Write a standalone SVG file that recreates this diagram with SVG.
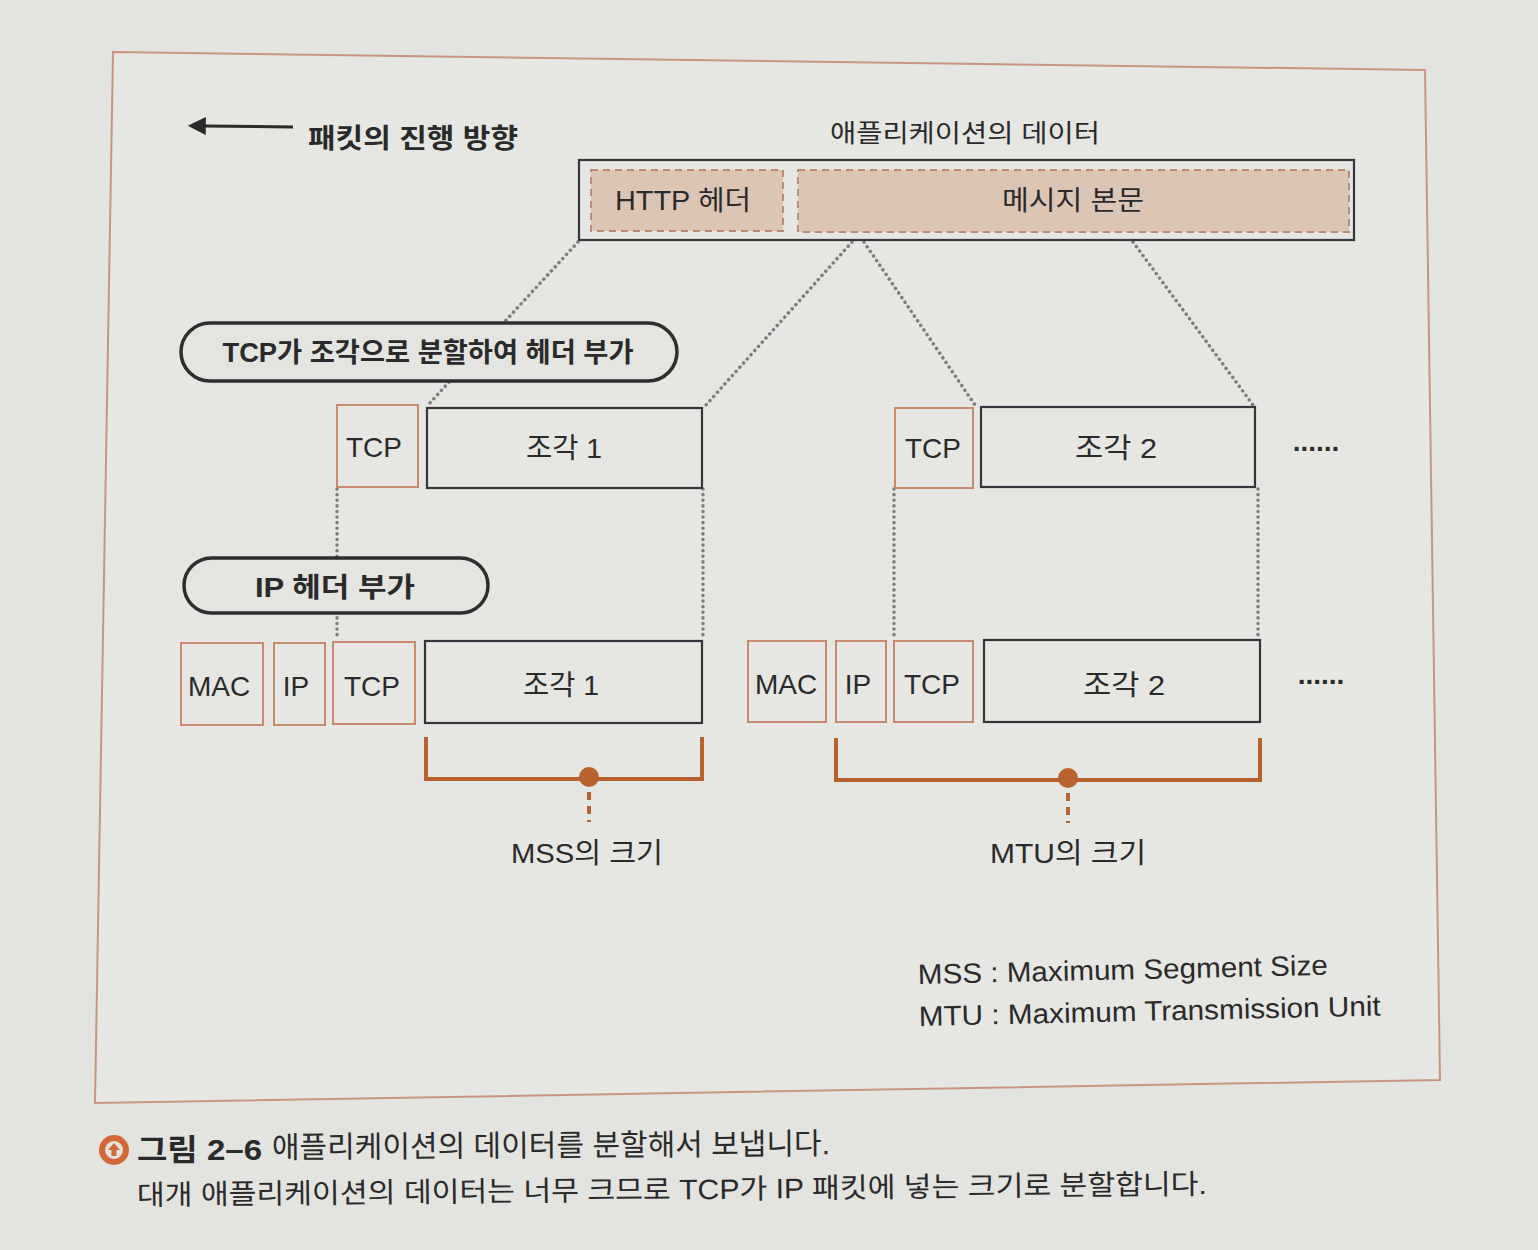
<svg xmlns="http://www.w3.org/2000/svg" width="1538" height="1250" viewBox="0 0 1538 1250">
<defs>
<style>
.t{font-family:"Liberation Sans","Noto Sans CJK KR",sans-serif;fill:#2a2a2a}
.b{font-weight:bold}
.box{fill:none;stroke:#34363c;stroke-width:2.2}
.obox{fill:none;stroke:#c98a6c;stroke-width:2}
.dash{fill:#dbc6b6;stroke:#b88b72;stroke-width:2;stroke-dasharray:7 5}
.dot{fill:none;stroke:#7c7e83;stroke-width:3.5;stroke-dasharray:0.1 5.5;stroke-linecap:round}
.pill{fill:#e4e4e0;stroke:#2e2e30;stroke-width:3.5}
.br{fill:none;stroke:#b8622f;stroke-width:4}
.brd{stroke:#b8622f;stroke-width:4;stroke-dasharray:8 6}
.ell{font-family:"Liberation Sans",sans-serif;font-size:28px;font-weight:bold;fill:#2a2a2a}
</style>
<marker id="ah" viewBox="0 0 10 10" refX="1" refY="5" markerWidth="6.5" markerHeight="6" orient="auto-start-reverse">
<path d="M0,0 L10,5 L0,10 z" fill="#2a2a2a"/>
</marker>
</defs>
<rect width="1538" height="1250" fill="#e3e3df"/>
<polygon points="113,52 1425,70 1440,1080 95,1103" fill="#e6e6e2" stroke="#c9957e" stroke-width="2"/>

<g id="connectors">
<line class="dot" x1="578" y1="242" x2="428" y2="405"/>
<line class="dot" x1="852" y1="242" x2="706" y2="405"/>
<line class="dot" x1="864" y1="242" x2="975" y2="405"/>
<line class="dot" x1="1133" y1="242" x2="1253" y2="405"/>
<line class="dot" x1="337" y1="489" x2="337" y2="640"/>
<line class="dot" x1="703" y1="489" x2="703" y2="640"/>
<line class="dot" x1="894" y1="489" x2="894" y2="640"/>
<line class="dot" x1="1258" y1="489" x2="1258" y2="640"/>
</g>

<g id="direction">
<line x1="204" y1="126" x2="293" y2="127" stroke="#2a2a2a" stroke-width="3" marker-start="url(#ah)"/>
<text class="t b" x="308" y="148" font-size="27" textLength="210" lengthAdjust="spacingAndGlyphs">패킷의 진행 방향</text>
</g>

<g id="app-data">
<text class="t" x="965" y="142" font-size="25" text-anchor="middle" textLength="270" lengthAdjust="spacingAndGlyphs">애플리케이션의 데이터</text>
<rect class="box" x="579" y="160" width="775" height="80" fill="#e8e8e4"/>
</g>
<g id="http-header">
<rect class="dash" x="591" y="170" width="192" height="61"/>
<text class="t" x="683" y="210" font-size="27" text-anchor="middle" textLength="136" lengthAdjust="spacingAndGlyphs">HTTP 헤더</text>
</g>
<g id="message-body">
<rect class="dash" x="798" y="170" width="551" height="62"/>
<text class="t" x="1073" y="210" font-size="27" text-anchor="middle" textLength="142" lengthAdjust="spacingAndGlyphs">메시지 본문</text>
</g>

<g id="pill-tcp">
<rect class="pill" x="181" y="323" width="496" height="58" rx="29"/>
<text class="t b" x="428" y="362" font-size="27" text-anchor="middle" textLength="411" lengthAdjust="spacingAndGlyphs">TCP가 조각으로 분할하여 헤더 부가</text>
</g>

<g id="tcp1">
<rect class="obox" x="337" y="405" width="81" height="82"/>
<text class="t" x="374" y="457" font-size="28" text-anchor="middle">TCP</text>
</g>
<g id="frag1">
<rect class="box" x="427" y="408" width="275" height="80"/>
<text class="t" x="564" y="458" font-size="28" text-anchor="middle" textLength="76" lengthAdjust="spacingAndGlyphs">조각 1</text>
</g>
<g id="tcp2">
<rect class="obox" x="895" y="408" width="78" height="80"/>
<text class="t" x="933" y="458" font-size="28" text-anchor="middle">TCP</text>
</g>
<g id="frag2">
<rect class="box" x="981" y="407" width="274" height="80"/>
<text class="t" x="1116" y="458" font-size="28" text-anchor="middle" textLength="82" lengthAdjust="spacingAndGlyphs">조각 2</text>
</g>
<text class="ell" x="1316" y="451" text-anchor="middle">......</text>

<g id="pill-ip">
<rect class="pill" x="184" y="558" width="304" height="55" rx="27.5"/>
<text class="t b" x="335" y="597" font-size="27" text-anchor="middle" textLength="160" lengthAdjust="spacingAndGlyphs">IP 헤더 부가</text>
</g>

<g id="mac1">
<rect class="obox" x="181" y="643" width="82" height="82"/>
<text class="t" x="219" y="696" font-size="28" text-anchor="middle">MAC</text>
</g>
<g id="ip1">
<rect class="obox" x="274" y="643" width="51" height="82"/>
<text class="t" x="296" y="696" font-size="28" text-anchor="middle">IP</text>
</g>
<g id="tcp1b">
<rect class="obox" x="333" y="642" width="82" height="82"/>
<text class="t" x="372" y="696" font-size="28" text-anchor="middle">TCP</text>
</g>
<g id="frag1b">
<rect class="box" x="425" y="641" width="277" height="82"/>
<text class="t" x="561" y="695" font-size="28" text-anchor="middle" textLength="76" lengthAdjust="spacingAndGlyphs">조각 1</text>
</g>

<g id="mac2">
<rect class="obox" x="748" y="641" width="78" height="81"/>
<text class="t" x="786" y="694" font-size="28" text-anchor="middle">MAC</text>
</g>
<g id="ip2">
<rect class="obox" x="836" y="641" width="50" height="81"/>
<text class="t" x="858" y="694" font-size="28" text-anchor="middle">IP</text>
</g>
<g id="tcp2b">
<rect class="obox" x="894" y="641" width="79" height="81"/>
<text class="t" x="932" y="694" font-size="28" text-anchor="middle">TCP</text>
</g>
<g id="frag2b">
<rect class="box" x="984" y="640" width="276" height="82"/>
<text class="t" x="1124" y="695" font-size="28" text-anchor="middle" textLength="82" lengthAdjust="spacingAndGlyphs">조각 2</text>
</g>
<text class="ell" x="1321" y="684" text-anchor="middle">......</text>

<g id="mss">
<path class="br" d="M426,737 V779 H702 V737"/>
<circle cx="589" cy="777" r="10" fill="#b8622f"/>
<line class="brd" x1="589" y1="792" x2="589" y2="822"/>
<text class="t" x="587" y="863" font-size="28" text-anchor="middle" textLength="152" lengthAdjust="spacingAndGlyphs">MSS의 크기</text>
</g>
<g id="mtu">
<path class="br" d="M836,738 V780 H1260 V738"/>
<circle cx="1068" cy="778" r="10" fill="#b8622f"/>
<line class="brd" x1="1068" y1="793" x2="1068" y2="823"/>
<text class="t" x="1068" y="863" font-size="28" text-anchor="middle" textLength="156" lengthAdjust="spacingAndGlyphs">MTU의 크기</text>
</g>

<g id="legend" transform="rotate(-1.3 918 982)">
<text class="t" x="918" y="984" font-size="28" textLength="410" lengthAdjust="spacingAndGlyphs">MSS : Maximum Segment Size</text>
<text class="t" x="918" y="1026" font-size="28" textLength="462" lengthAdjust="spacingAndGlyphs">MTU : Maximum Transmission Unit</text>
</g>

<g id="caption">
<circle cx="114" cy="1150" r="12" fill="none" stroke="#d2683a" stroke-width="6"/>
<path d="M114,1143 L120,1150 H116.5 V1156 H111.5 V1150 H108 Z" fill="#d2683a"/>
<text class="t b" x="137" y="1160" font-size="30" textLength="125" lengthAdjust="spacingAndGlyphs">그림 2–6</text>
<text class="t" x="272" y="1158" font-size="30" textLength="558" lengthAdjust="spacingAndGlyphs" transform="rotate(-0.4 272 1158)">애플리케이션의 데이터를 분할해서 보냅니다.</text>
<text class="t" x="137" y="1205" font-size="28" textLength="1070" lengthAdjust="spacingAndGlyphs" transform="rotate(-0.6 137 1205)">대개 애플리케이션의 데이터는 너무 크므로 TCP가 IP 패킷에 넣는 크기로 분할합니다.</text>
</g>
</svg>
